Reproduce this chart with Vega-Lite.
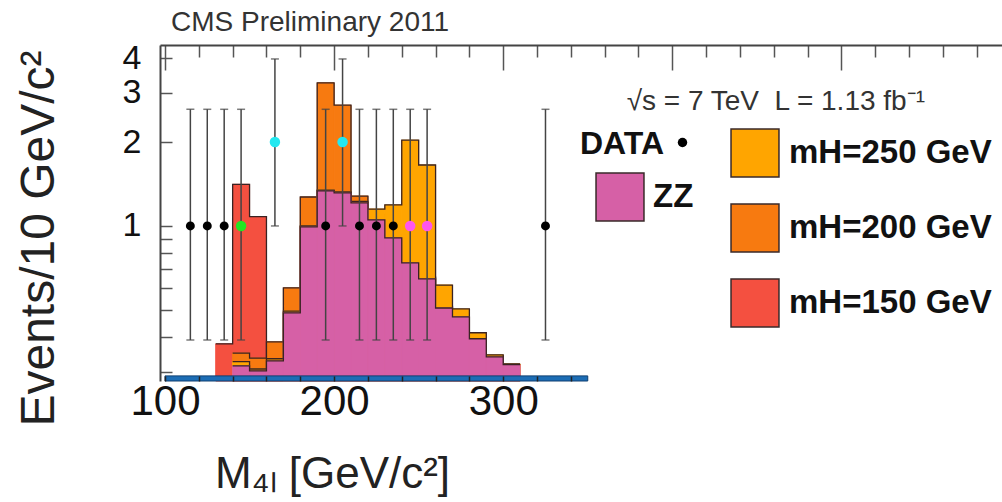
{
  "$schema": "https://vega.github.io/schema/vega-lite/v6.json",
  "width": 842,
  "height": 336,
  "autosize": {"type": "none"},
  "padding": {"left": 160, "top": 45, "right": 0, "bottom": 121},
  "background": "white",
  "config": {
    "view": {"stroke": null},
    "font": "Liberation Sans",
    "axis": {"grid": false, "labelFont": "Liberation Sans", "titleFont": "Liberation Sans"},
    "legend": {"labelFont": "Liberation Sans", "titleFont": "Liberation Sans"}
  },
  "title": {
    "text": "CMS Preliminary 2011",
    "anchor": "start",
    "frame": "group",
    "fontSize": 28,
    "fontWeight": "normal",
    "color": "#333",
    "font": "Liberation Sans",
    "baseline": "alphabetic",
    "offset": -18,
    "dx": 11
  },
  "datasets": {
    "hist": [
      {"s": "mH=150 GeV", "m1": 130, "m2": 140, "v": 0.378},
      {"s": "mH=150 GeV", "m1": 140, "m2": 150, "v": 1.41},
      {"s": "mH=150 GeV", "m1": 150, "m2": 160, "v": 1.08},
      {"s": "mH=150 GeV", "m1": 160, "m2": 170, "v": 0.33},
      {"s": "mH=200 GeV", "m1": 140, "m2": 150, "v": 0.35},
      {"s": "mH=200 GeV", "m1": 150, "m2": 160, "v": 0.336},
      {"s": "mH=200 GeV", "m1": 160, "m2": 170, "v": 0.384},
      {"s": "mH=200 GeV", "m1": 170, "m2": 180, "v": 0.6},
      {"s": "mH=200 GeV", "m1": 180, "m2": 190, "v": 1.27},
      {"s": "mH=200 GeV", "m1": 190, "m2": 200, "v": 3.26},
      {"s": "mH=200 GeV", "m1": 200, "m2": 210, "v": 2.71},
      {"s": "mH=200 GeV", "m1": 210, "m2": 220, "v": 1.28},
      {"s": "mH=200 GeV", "m1": 220, "m2": 230, "v": 1.1},
      {"s": "mH=200 GeV", "m1": 230, "m2": 240, "v": 0.93},
      {"s": "mH=200 GeV", "m1": 240, "m2": 250, "v": 0.75},
      {"s": "mH=200 GeV", "m1": 250, "m2": 260, "v": 0.655},
      {"s": "mH=200 GeV", "m1": 260, "m2": 270, "v": 0.515},
      {"s": "mH=200 GeV", "m1": 270, "m2": 280, "v": 0.476},
      {"s": "mH=200 GeV", "m1": 280, "m2": 290, "v": 0.397},
      {"s": "mH=200 GeV", "m1": 290, "m2": 300, "v": 0.341},
      {"s": "mH=200 GeV", "m1": 300, "m2": 310, "v": 0.319},
      {"s": "mH=250 GeV", "m1": 140, "m2": 150, "v": 0.326},
      {"s": "mH=250 GeV", "m1": 150, "m2": 160, "v": 0.307},
      {"s": "mH=250 GeV", "m1": 160, "m2": 170, "v": 0.334},
      {"s": "mH=250 GeV", "m1": 170, "m2": 180, "v": 0.495},
      {"s": "mH=250 GeV", "m1": 180, "m2": 190, "v": 1.0},
      {"s": "mH=250 GeV", "m1": 190, "m2": 200, "v": 1.345},
      {"s": "mH=250 GeV", "m1": 200, "m2": 210, "v": 1.325},
      {"s": "mH=250 GeV", "m1": 210, "m2": 220, "v": 1.225},
      {"s": "mH=250 GeV", "m1": 220, "m2": 230, "v": 1.15},
      {"s": "mH=250 GeV", "m1": 230, "m2": 240, "v": 1.19},
      {"s": "mH=250 GeV", "m1": 240, "m2": 250, "v": 2.03},
      {"s": "mH=250 GeV", "m1": 250, "m2": 260, "v": 1.654},
      {"s": "mH=250 GeV", "m1": 260, "m2": 270, "v": 0.614},
      {"s": "mH=250 GeV", "m1": 270, "m2": 280, "v": 0.504},
      {"s": "mH=250 GeV", "m1": 280, "m2": 290, "v": 0.414},
      {"s": "mH=250 GeV", "m1": 290, "m2": 300, "v": 0.345},
      {"s": "mH=250 GeV", "m1": 300, "m2": 310, "v": 0.32},
      {"s": "ZZ", "m1": 140, "m2": 150, "v": 0.315},
      {"s": "ZZ", "m1": 150, "m2": 160, "v": 0.302},
      {"s": "ZZ", "m1": 160, "m2": 170, "v": 0.328},
      {"s": "ZZ", "m1": 170, "m2": 180, "v": 0.488},
      {"s": "ZZ", "m1": 180, "m2": 190, "v": 0.992},
      {"s": "ZZ", "m1": 190, "m2": 200, "v": 1.335},
      {"s": "ZZ", "m1": 200, "m2": 210, "v": 1.313},
      {"s": "ZZ", "m1": 210, "m2": 220, "v": 1.209},
      {"s": "ZZ", "m1": 220, "m2": 230, "v": 1.051},
      {"s": "ZZ", "m1": 230, "m2": 240, "v": 0.906},
      {"s": "ZZ", "m1": 240, "m2": 250, "v": 0.737},
      {"s": "ZZ", "m1": 250, "m2": 260, "v": 0.646},
      {"s": "ZZ", "m1": 260, "m2": 270, "v": 0.508},
      {"s": "ZZ", "m1": 270, "m2": 280, "v": 0.472},
      {"s": "ZZ", "m1": 280, "m2": 290, "v": 0.394},
      {"s": "ZZ", "m1": 290, "m2": 300, "v": 0.339},
      {"s": "ZZ", "m1": 300, "m2": 310, "v": 0.318}
    ],
    "bkg": [
      {"m1": 100, "m2": 350, "v": 0.29}
    ],
    "pts": [
      {"m": 115, "n": 1, "lo": 0.39, "hi": 2.62, "g": "k"},
      {"m": 125, "n": 1, "lo": 0.39, "hi": 2.62, "g": "k"},
      {"m": 135, "n": 1, "lo": 0.39, "hi": 2.62, "g": "k"},
      {"m": 145, "n": 1, "lo": 0.39, "hi": 2.62, "g": "gr"},
      {"m": 165, "n": 2, "lo": 1.0, "hi": 3.97, "g": "cy"},
      {"m": 195, "n": 1, "lo": 0.39, "hi": 2.62, "g": "k"},
      {"m": 205, "n": 2, "lo": 1.0, "hi": 3.97, "g": "cy"},
      {"m": 215, "n": 1, "lo": 0.39, "hi": 2.62, "g": "k"},
      {"m": 225, "n": 1, "lo": 0.39, "hi": 2.62, "g": "k"},
      {"m": 235, "n": 1, "lo": 0.39, "hi": 2.62, "g": "k"},
      {"m": 245, "n": 1, "lo": 0.39, "hi": 2.62, "g": "mg"},
      {"m": 255, "n": 1, "lo": 0.39, "hi": 2.62, "g": "mg"},
      {"m": 325, "n": 1, "lo": 0.39, "hi": 2.62, "g": "k"}
    ]
  },
  "layer": [
    {
      "data": {"name": "hist"},
      "transform": [{"filter": "datum.s === 'mH=150 GeV'"}],
      "mark": {"type": "bar", "orient": "vertical", "stroke": "#f45040", "strokeWidth": 1},
      "encoding": {
        "x": {"field": "m1", "type": "quantitative", "scale": {"domain": [100, 592], "nice": false, "zero": false}, "axis": null},
        "x2": {"field": "m2"},
        "y": {
          "field": "v", "type": "quantitative",
          "scale": {"type": "log", "domain": [0.278, 4.455], "nice": false},
          "axis": {
            "values": [0.3, 0.4, 0.5, 0.6, 0.7, 0.8, 0.9, 1, 2, 3, 4],
            "labelExpr": "datum.value >= 1 ? datum.value : ''",
            "tickSize": -12, "tickColor": "#555", "tickWidth": 1.5,
            "domainColor": "#444", "domainWidth": 2,
            "labelFontSize": 34, "labelColor": "#111", "labelPadding": 31,
            "labelOverlap": false, "labelFlush": false,
            "title": "Events/10 GeV/c²", "titleFontSize": 48, "titleFontWeight": "normal", "titleColor": "#222",
            "titleX": -121, "titleY": 193, "titleAngle": -90, "titleAlign": "center", "titleBaseline": "middle"
          }
        },
        "y2": {"datum": 0.278},
        "color": {
          "field": "s", "type": "nominal",
          "scale": {"domain": ["mH=250 GeV", "mH=200 GeV", "mH=150 GeV"], "range": ["#ffa500", "#f77a10", "#f45040"]},
          "legend": {
            "title": null, "orient": "none", "legendX": 570, "legendY": 83,
            "symbolType": "square", "symbolSize": 2300, "symbolStrokeColor": "#3a2a2a", "symbolStrokeWidth": 1.5,
            "symbolOpacity": 1,
            "labelFontSize": 33, "labelFontWeight": "bold", "labelColor": "#111", "labelOffset": 9, "labelLimit": 400,
            "rowPadding": 21, "padding": 0,
            "encode": {"symbols": {"update": {"stroke": {"value": "#3a2a2a"}, "strokeWidth": {"value": 1.5}}}}
          }
        }
      }
    },
    {
      "data": {"name": "hist"},
      "transform": [{"filter": "datum.s === 'mH=150 GeV'"}, {"fold": ["m1", "m2"], "as": ["edge", "xm"]}],
      "mark": {"type": "line", "stroke": "#3a2323", "strokeWidth": 1.3},
      "encoding": {
        "x": {"field": "xm", "type": "quantitative", "axis": null},
        "y": {"field": "v", "type": "quantitative"},
        "order": [{"field": "m1", "type": "quantitative"}, {"field": "xm", "type": "quantitative"}]
      }
    },
    {
      "data": {"name": "hist"},
      "transform": [{"filter": "datum.s === 'mH=200 GeV'"}],
      "mark": {"type": "bar", "orient": "vertical", "stroke": "#f77a10", "strokeWidth": 1},
      "encoding": {
        "x": {"field": "m1", "type": "quantitative", "axis": null},
        "x2": {"field": "m2"},
        "y": {"field": "v", "type": "quantitative"},
        "y2": {"datum": 0.278},
        "color": {"field": "s", "type": "nominal"}
      }
    },
    {
      "data": {"name": "hist"},
      "transform": [{"filter": "datum.s === 'mH=200 GeV'"}, {"fold": ["m1", "m2"], "as": ["edge", "xm"]}],
      "mark": {"type": "line", "stroke": "#3a2323", "strokeWidth": 1.3},
      "encoding": {
        "x": {"field": "xm", "type": "quantitative", "axis": null},
        "y": {"field": "v", "type": "quantitative"},
        "order": [{"field": "m1", "type": "quantitative"}, {"field": "xm", "type": "quantitative"}]
      }
    },
    {
      "data": {"name": "hist"},
      "transform": [{"filter": "datum.s === 'mH=250 GeV'"}],
      "mark": {"type": "bar", "orient": "vertical", "stroke": "#ffa500", "strokeWidth": 1},
      "encoding": {
        "x": {"field": "m1", "type": "quantitative", "axis": null},
        "x2": {"field": "m2"},
        "y": {"field": "v", "type": "quantitative"},
        "y2": {"datum": 0.278},
        "color": {"field": "s", "type": "nominal"}
      }
    },
    {
      "data": {"name": "hist"},
      "transform": [{"filter": "datum.s === 'mH=250 GeV'"}, {"fold": ["m1", "m2"], "as": ["edge", "xm"]}],
      "mark": {"type": "line", "stroke": "#3a2323", "strokeWidth": 1.3},
      "encoding": {
        "x": {"field": "xm", "type": "quantitative", "axis": null},
        "y": {"field": "v", "type": "quantitative"},
        "order": [{"field": "m1", "type": "quantitative"}, {"field": "xm", "type": "quantitative"}]
      }
    },
    {
      "data": {"name": "hist"},
      "transform": [{"filter": "datum.s === 'ZZ'"}],
      "mark": {"type": "bar", "orient": "vertical", "stroke": "#d660a6", "strokeWidth": 1},
      "encoding": {
        "x": {
          "field": "m1", "type": "quantitative",
          "axis": {
            "orient": "top",
            "values": [100, 120, 140, 160, 180, 200, 220, 240, 260, 280, 300, 320, 340, 360, 380, 400, 420, 440, 460, 480, 500, 520, 540, 560, 580],
            "labels": false,
            "tickSize": {"condition": {"test": "datum.value % 100 === 0", "value": -25}, "value": -12},
            "tickColor": "#555", "tickWidth": 1.5,
            "domainColor": "#444", "domainWidth": 2,
            "title": null
          }
        },
        "x2": {"field": "m2"},
        "y": {"field": "v", "type": "quantitative"},
        "y2": {"datum": 0.278},
        "fill": {
          "field": "s", "type": "nominal",
          "scale": {"domain": ["ZZ"], "range": ["#d660a6"]},
          "legend": {
            "title": null, "orient": "none", "legendX": 435, "legendY": 127,
            "symbolType": "square", "symbolSize": 2300, "symbolStrokeColor": "#3a2a2a", "symbolStrokeWidth": 1.5,
            "symbolOpacity": 1,
            "labelFontSize": 33, "labelFontWeight": "bold", "labelColor": "#111", "labelOffset": 8,
            "padding": 0,
            "encode": {"symbols": {"update": {"stroke": {"value": "#3a2a2a"}, "strokeWidth": {"value": 1.5}}}}
          }
        }
      }
    },
    {
      "data": {"name": "hist"},
      "transform": [{"filter": "datum.s === 'ZZ'"}, {"fold": ["m1", "m2"], "as": ["edge", "xm"]}],
      "mark": {"type": "line", "stroke": "#3a2323", "strokeWidth": 1.3},
      "encoding": {
        "x": {"field": "xm", "type": "quantitative", "axis": null},
        "y": {"field": "v", "type": "quantitative"},
        "order": [{"field": "m1", "type": "quantitative"}, {"field": "xm", "type": "quantitative"}]
      }
    },
    {
      "data": {"name": "bkg"},
      "mark": {"type": "bar", "orient": "vertical", "color": "#1c6db5", "stroke": "#0e3f70", "strokeWidth": 1},
      "encoding": {
        "x": {
          "field": "m1", "type": "quantitative",
          "axis": {
            "orient": "bottom",
            "values": [100, 120, 140, 160, 180, 200, 220, 240, 260, 280, 300, 320, 340],
            "labelExpr": "datum.value % 100 === 0 ? datum.value : ''",
            "domain": false,
            "tickSize": -5, "tickColor": "#222", "tickWidth": 1.5,
            "labelFontSize": 42, "labelColor": "#111", "labelPadding": 5,
            "labelFlush": false, "labelOverlap": false,
            "title": "M₄ₗ [GeV/c²]", "titleFontSize": 44, "titleFontWeight": "normal", "titleColor": "#222",
            "titleX": 172, "titleY": 106, "titleBaseline": "alphabetic", "titleAlign": "center",
            "zindex": 1
          }
        },
        "x2": {"field": "m2"},
        "y": {"field": "v", "type": "quantitative"},
        "y2": {"datum": 0.278}
      }
    },
    {
      "data": {"name": "pts"},
      "mark": {"type": "rule", "color": "#444", "strokeWidth": 1.5},
      "encoding": {
        "x": {"field": "m", "type": "quantitative", "axis": null},
        "y": {"field": "lo", "type": "quantitative"},
        "y2": {"field": "hi"}
      }
    },
    {
      "data": {"name": "pts"},
      "mark": {"type": "tick", "orient": "horizontal", "color": "#444", "size": 8, "thickness": 1.5},
      "encoding": {
        "x": {"field": "m", "type": "quantitative", "axis": null},
        "y": {"field": "lo", "type": "quantitative"}
      }
    },
    {
      "data": {"name": "pts"},
      "mark": {"type": "tick", "orient": "horizontal", "color": "#444", "size": 8, "thickness": 1.5},
      "encoding": {
        "x": {"field": "m", "type": "quantitative", "axis": null},
        "y": {"field": "hi", "type": "quantitative"}
      }
    },
    {
      "data": {"name": "pts"},
      "transform": [{"filter": "datum.g === 'k'"}],
      "mark": {"type": "point", "filled": true, "color": "#000", "opacity": 1, "size": 80},
      "encoding": {
        "x": {"field": "m", "type": "quantitative", "axis": null},
        "y": {"field": "n", "type": "quantitative"},
        "shape": {
          "datum": "DATA",
          "scale": {"range": ["circle"]},
          "legend": {
            "title": "DATA", "titleOrient": "left", "titleFontSize": 32, "titleFontWeight": "bold", "titleColor": "#111",
            "titlePadding": 12, "labelExpr": "''",
            "orient": "none", "legendX": 420, "legendY": 92,
            "symbolSize": 90, "symbolFillColor": "#000", "symbolStrokeColor": "#000", "padding": 0
          }
        }
      }
    },
    {
      "data": {"name": "pts"},
      "transform": [{"filter": "datum.g === 'gr'"}],
      "mark": {"type": "point", "filled": true, "shape": "circle", "color": "#22e622", "opacity": 1, "size": 110},
      "encoding": {
        "x": {"field": "m", "type": "quantitative", "axis": null},
        "y": {"field": "n", "type": "quantitative"}
      }
    },
    {
      "data": {"name": "pts"},
      "transform": [{"filter": "datum.g === 'cy'"}],
      "mark": {"type": "point", "filled": true, "shape": "circle", "color": "#22e8f0", "opacity": 1, "size": 110},
      "encoding": {
        "x": {"field": "m", "type": "quantitative", "axis": null},
        "y": {"field": "n", "type": "quantitative"}
      }
    },
    {
      "data": {"name": "pts"},
      "transform": [{"filter": "datum.g === 'mg'"}],
      "mark": {"type": "point", "filled": true, "shape": "circle", "color": "#ff55ee", "opacity": 1, "size": 110},
      "encoding": {
        "x": {"field": "m", "type": "quantitative", "axis": null},
        "y": {"field": "n", "type": "quantitative"}
      }
    },
    {
      "data": {"values": [{"t": "√s = 7 TeV\u00a0\u00a0L = 1.13 fb⁻¹"}]},
      "mark": {"type": "text", "align": "left", "baseline": "middle", "fontSize": 28, "color": "#333", "font": "Liberation Sans"},
      "encoding": {
        "x": {"datum": 373, "type": "quantitative", "axis": null},
        "y": {"datum": 2.78, "type": "quantitative"},
        "text": {"field": "t"}
      }
    }
  ],
  "resolve": {"axis": {"x": "independent"}}
}
